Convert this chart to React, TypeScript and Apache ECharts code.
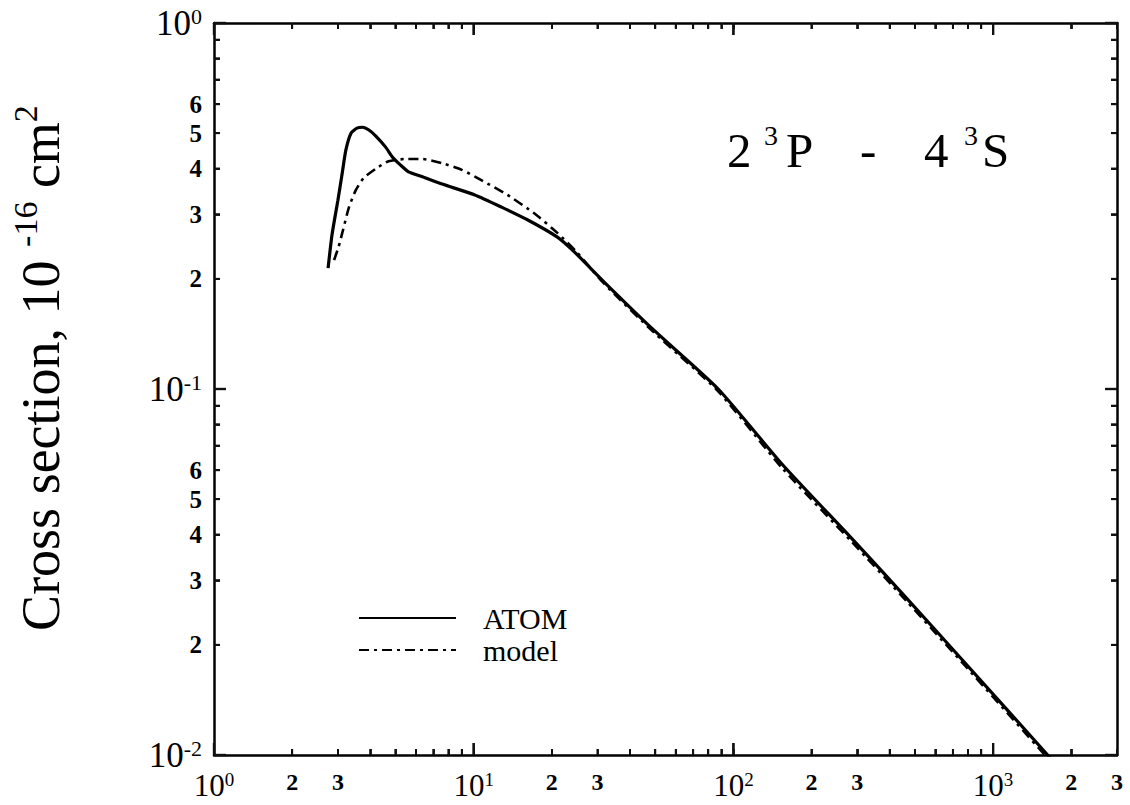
import React, { useEffect, useRef } from 'react';
import * as echarts from 'echarts';

// Incident energy (threshold units) and cross sections (1e-16 cm^2)
const atomEnergy = [2.75, 2.85, 3.0, 3.11, 3.22, 3.37, 3.55, 3.74, 3.95, 4.2, 4.58, 4.87, 5.23, 5.61, 6.35, 7.56, 10.1, 12.8, 16.1, 21, 24.4, 31.8, 49.3, 87.4, 155, 286, 465, 788, 1622, 1700];
const atomSigma = [0.214, 0.265, 0.328, 0.385, 0.45, 0.5, 0.516, 0.519, 0.51, 0.491, 0.458, 0.43, 0.409, 0.392, 0.38, 0.363, 0.339, 0.314, 0.29, 0.26, 0.237, 0.196, 0.145, 0.1, 0.062, 0.039, 0.0268, 0.0177, 0.01, 0.0096];

const modelEnergy = [2.9, 3.02, 3.14, 3.31, 3.52, 3.77, 4.2, 4.7, 5.46, 6.34, 7.56, 9.0, 10.7, 13.5, 17.1, 21, 25, 31.8, 49.3, 87.4, 155, 286, 465, 788, 1622, 1700];
const modelSigma = [0.225, 0.245, 0.272, 0.314, 0.35, 0.377, 0.4, 0.419, 0.425, 0.425, 0.414, 0.397, 0.372, 0.339, 0.302, 0.267, 0.236, 0.194, 0.143, 0.0985, 0.0605, 0.0382, 0.0263, 0.0174, 0.0098, 0.0094];

const seriesNames = ['ATOM', 'model'];

// Tick and label positions
const xTicks = [1, 2, 3, 4, 5, 6, 7, 8, 9, 10, 20, 30, 40, 50, 60, 70, 80, 90, 100, 200, 300, 400, 500, 600, 700, 800, 900, 1000, 2000, 3000];
const xMajorTicks = [1, 10, 100, 1000];
const xLabelValues = [1, 2, 3, 10, 20, 30, 100, 200, 300, 1000, 2000, 3000];

const yTicks = [0.01, 0.02, 0.03, 0.04, 0.05, 0.06, 0.07, 0.08, 0.09, 0.1, 0.2, 0.3, 0.4, 0.5, 0.6, 0.7, 0.8, 0.9, 1];
const yMajorTicks = [0.01, 0.1, 1];
const yLabelValues = [0.01, 0.02, 0.03, 0.04, 0.05, 0.06, 0.1, 0.2, 0.3, 0.4, 0.5, 0.6, 1];

const X_MIN = 1;
const X_MAX = 3000;
const Y_MIN = 0.01;
const Y_MAX = 1;

const INK = '#010101';
const SERIF = '"Liberation Serif", "Times New Roman", "DejaVu Serif", serif';

function logLabel(v: number): string {
  const e = Math.floor(Math.log10(v) + 1e-9);
  const m = Math.round(v / Math.pow(10, e));
  if (m === 1) return '{b|10}{s|' + e + '}';
  return '{m|' + m + '}';
}

const xRich = {
  b: { fontFamily: SERIF, fontSize: 31, color: INK, lineHeight: 32, verticalAlign: 'top' },
  s: { fontFamily: SERIF, fontSize: 19, color: INK, lineHeight: 24, verticalAlign: 'top' },
  m: { fontFamily: SERIF, fontSize: 24, fontWeight: 'bold', color: INK, lineHeight: 28, verticalAlign: 'top' },
};
const yRich = {
  b: { fontFamily: SERIF, fontSize: 35, color: INK, lineHeight: 36 },
  s: { fontFamily: SERIF, fontSize: 22, color: INK, lineHeight: 30, verticalAlign: 'top' },
  m: { fontFamily: SERIF, fontSize: 25, fontWeight: 'bold', color: INK, lineHeight: 28 },
};

function frameAxis(pos: string, min: number, max: number, labels: number[] | null, rich: any, margin: number, ticks: number[]) {
  return {
    type: 'log',
    logBase: 10,
    min,
    max,
    position: pos,
    splitLine: { show: false },
    axisTick: { show: true, inside: true, length: 6, customValues: ticks, lineStyle: { color: '#222', width: 1.8 } },
    axisLine: { show: true, onZero: false, lineStyle: { color: INK, width: 2.5 } },
    axisLabel: labels
      ? { show: true, customValues: labels, margin, formatter: logLabel, rich }
      : { show: false },
  };
}

// side: 0 bottom, 1 top (x ticks); 0 left, 1 right (y ticks)
const xTickData = [
  ...xTicks.map((v) => [v, Y_MIN, xMajorTicks.indexOf(v) >= 0 ? 12 : 6, 0]),
  ...xTicks.map((v) => [v, Y_MAX, xMajorTicks.indexOf(v) >= 0 ? 12 : 6, 1]),
];
const yTickData = [
  ...yTicks.map((v) => [X_MIN, v, yMajorTicks.indexOf(v) >= 0 ? 12 : 6, 0]),
  ...yTicks.map((v) => [X_MAX, v, yMajorTicks.indexOf(v) >= 0 ? 12 : 6, 1]),
];

export default function App() {
  const ref = useRef<HTMLDivElement>(null);

  useEffect(() => {
    if (!ref.current) return;
    const chart = echarts.init(ref.current, undefined, { renderer: 'svg' });

    const yAxisMain: any = frameAxis('left', Y_MIN, Y_MAX, yLabelValues, yRich, 12, yTicks);
    yAxisMain.name = '{a|Cross section, 10 }{s|-16}{a| cm}{s|2}';
    yAxisMain.nameLocation = 'middle';
    yAxisMain.nameGap = 146;
    yAxisMain.nameTextStyle = {
      color: INK,
      fontFamily: SERIF,
      padding: [0, 0, 0, 42],
      rich: {
        a: { fontFamily: SERIF, fontSize: 54, color: INK, lineHeight: 60, verticalAlign: 'bottom' },
        s: { fontFamily: SERIF, fontSize: 34, color: INK, lineHeight: 22, verticalAlign: 'top' },
      },
    };

    const titleFont = (size: number) => ({ fontFamily: SERIF, fontSize: size, fill: INK, textVerticalAlign: 'middle', textAlign: 'left' });
    const titleGraphics: any[] = [
      { type: 'text', x: 727, y: 150, style: { text: '2', ...titleFont(49) } },
      { type: 'text', x: 764, y: 135, style: { text: '3', ...titleFont(28) } },
      { type: 'text', x: 786, y: 150, style: { text: 'P', ...titleFont(49) } },
      { type: 'text', x: 860, y: 150, style: { text: '-', ...titleFont(49) } },
      { type: 'text', x: 924, y: 150, style: { text: '4', ...titleFont(49) } },
      { type: 'text', x: 964, y: 135, style: { text: '3', ...titleFont(28) } },
      { type: 'text', x: 982, y: 150, style: { text: 'S', ...titleFont(49) } },
    ];

    chart.setOption({
      animation: false,
      backgroundColor: '#fff',
      grid: { left: 207, right: 13, top: 23, bottom: 50, containLabel: false },
      xAxis: [
        frameAxis('bottom', X_MIN, X_MAX, xLabelValues, xRich, 15, xTicks),
        frameAxis('top', X_MIN, X_MAX, null, null, 0, xTicks),
      ],
      yAxis: [yAxisMain, frameAxis('right', Y_MIN, Y_MAX, null, null, 0, yTicks)],
      legend: {
        data: seriesNames,
        orient: 'vertical',
        left: 353,
        top: 598,
        itemWidth: 97,
        itemHeight: 14,
        itemGap: 2,
        itemStyle: { opacity: 0 },
        textStyle: { fontFamily: SERIF, fontSize: 30, color: INK, padding: [0, 0, 0, 22] },
      },
      graphic: titleGraphics,
      series: [
        {
          name: seriesNames[0],
          type: 'line',
          data: atomEnergy.map((e, i) => [e, atomSigma[i]]),
          symbol: 'none',
          showSymbol: false,
          smooth: 0.2,
          lineStyle: { color: INK, width: 3.2 },
          itemStyle: { color: INK },
          z: 3,
        },
        {
          name: seriesNames[1],
          type: 'line',
          data: modelEnergy.map((e, i) => [e, modelSigma[i]]),
          symbol: 'none',
          showSymbol: false,
          smooth: 0.2,
          lineStyle: { color: INK, width: 2.6, type: [10, 5, 3, 5] },
          itemStyle: { color: INK },
          z: 2,
        },
        {
          // x-axis ticks, placed by the log axes
          type: 'custom',
          clip: false,
          silent: true,
          z: 10,
          data: xTickData,
          encode: { x: 0, y: 1 },
          renderItem: (_p: any, api: any) => {
            const p = api.coord([api.value(0), api.value(1)]);
            const len = api.value(2);
            const top = api.value(3) === 1;
            const w = len > 8 ? 2.2 : 1.8;
            return {
              type: 'rect',
              shape: { x: p[0] - w / 2, y: top ? p[1] : p[1] - len, width: w, height: len },
              style: { fill: INK },
            };
          },
        },
        {
          // y-axis ticks, placed by the log axes
          type: 'custom',
          clip: false,
          silent: true,
          z: 10,
          data: yTickData,
          encode: { x: 0, y: 1 },
          renderItem: (_p: any, api: any) => {
            const p = api.coord([api.value(0), api.value(1)]);
            const len = api.value(2);
            const right = api.value(3) === 1;
            const w = len > 8 ? 2.2 : 1.8;
            return {
              type: 'rect',
              shape: { x: right ? p[0] - len : p[0], y: p[1] - w / 2, width: len, height: w },
              style: { fill: INK },
            };
          },
        },
      ],
    });

    // Tick marks also as graphic rects, positioned with the chart's own axis scales
    try {
      const tickRects: any[] = [];
      const finder = { xAxisIndex: 0, yAxisIndex: 0 };
      xTickData.forEach((d) => {
        const p = chart.convertToPixel(finder as any, [d[0], d[1]]) as number[];
        const len = d[2];
        const w = len > 8 ? 2.2 : 1.8;
        if (p && isFinite(p[0]) && isFinite(p[1])) {
          tickRects.push({ type: 'rect', z: 100, silent: true, shape: { x: p[0] - w / 2, y: d[3] === 1 ? p[1] : p[1] - len, width: w, height: len }, style: { fill: '#111' } });
        }
      });
      yTickData.forEach((d) => {
        const p = chart.convertToPixel(finder as any, [d[0], d[1]]) as number[];
        const len = d[2];
        const w = len > 8 ? 2.2 : 1.8;
        if (p && isFinite(p[0]) && isFinite(p[1])) {
          tickRects.push({ type: 'rect', z: 100, silent: true, shape: { x: d[3] === 1 ? p[0] - len : p[0], y: p[1] - w / 2, width: len, height: w }, style: { fill: '#111' } });
        }
      });
      chart.setOption({ graphic: [...titleGraphics, ...tickRects] }, { replaceMerge: ['graphic'] });
    } catch (e) {
      // keep chart as is
    }

    return () => chart.dispose();
  }, []);

  return <div ref={ref} style={{ position: 'absolute', left: 0, top: 0, width: 1130, height: 805 }} />;
}
